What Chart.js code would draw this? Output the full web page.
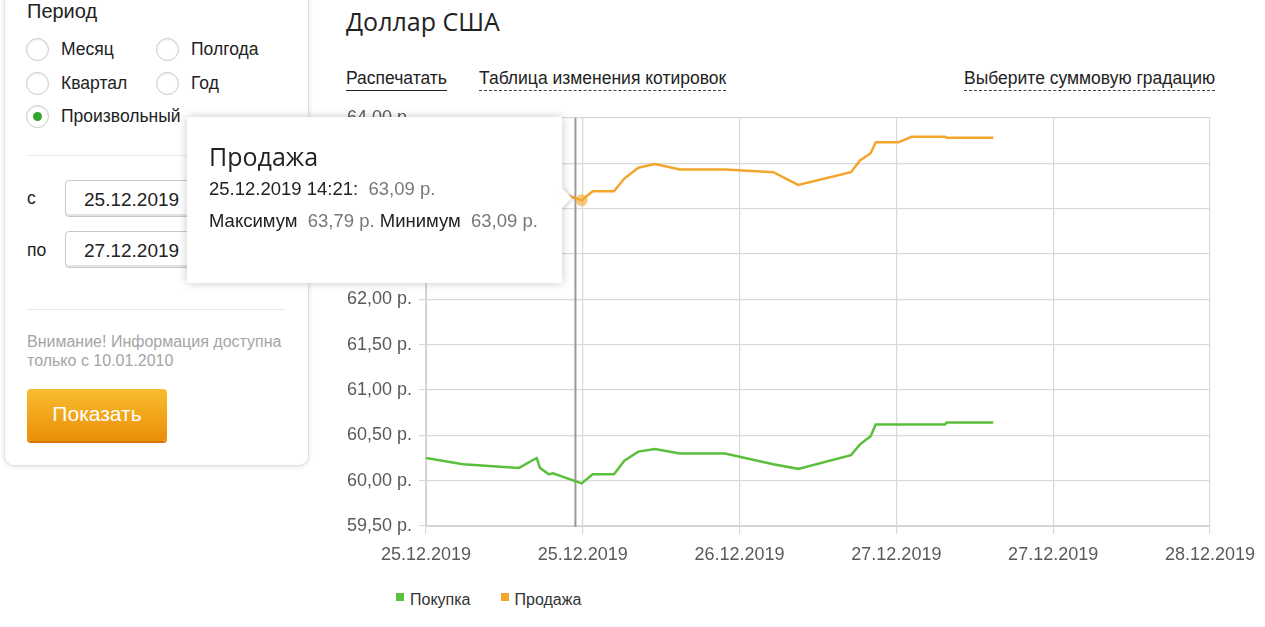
<!DOCTYPE html>
<html lang="ru">
<head>
<meta charset="utf-8">
<title>Доллар США</title>
<script src="https://cdn.jsdelivr.net/npm/chart.js@4.4.1/dist/chart.umd.min.js"></script>
<style>
  body { margin: 0; background: #fff; font-family: "Liberation Sans", Arial, sans-serif; color: #222; width: 1265px; height: 627px; overflow: hidden; position: relative; }
  .card { position: absolute; left: 4px; top: -20px; width: 303px; height: 484px; border: 1px solid #e2e2e2; border-radius: 10px; box-shadow: 0 1px 4px rgba(0,0,0,0.12); background: #fff; }
  .abs { position: absolute; white-space: nowrap; }
  .radio { position: absolute; width: 21px; height: 21px; border: 1px solid #c9c9c9; border-radius: 50%; box-shadow: inset 0 1px 2px rgba(0,0,0,0.08); background: #fff; }
  .radio.on::after { content: ""; position: absolute; left: 6px; top: 6px; width: 9px; height: 9px; border-radius: 50%; background: #35a52a; }
  .lbl { font-size: 17.5px; }
  .sep { position: absolute; left: 27px; width: 258px; height: 1px; background: #e6e6e6; }
  .inp { position: absolute; left: 65px; width: 220px; height: 37px; border: 1px solid #c8c8c8; border-radius: 4px; box-shadow: inset 0 -2px 0 #e4e4e4; font-size: 19px; line-height: 37px; padding-left: 18px; box-sizing: border-box; }
  .btn { position: absolute; left: 27px; top: 389px; width: 140px; height: 52px; border-radius: 4px; background: linear-gradient(#f8bd2f, #ec8e08); box-shadow: 0 2px 0 #d27706; color: #fff; font-size: 21px; text-align: center; line-height: 50px; }
  .link { position: absolute; top: 68px; font-size: 17.5px; line-height: 21px; padding-bottom: 1px; }
  .solid { border-bottom: 1px solid #222; }
  .dotted { border-bottom: 1px dashed #444; }
  #wrap { position: absolute; left: 330px; top: 100px; width: 935px; height: 476px; }
  .tip { position: absolute; left: 187px; top: 117px; width: 375px; height: 166px; background: #fff; box-shadow: 0 0 9px rgba(0,0,0,0.22); }
  .tip .arrow { position: absolute; right: -7px; top: 74px; width: 14px; height: 14px; background: #fff; transform: rotate(45deg); box-shadow: 2px -2px 3px rgba(0,0,0,0.12); }
  .tip .g { color: #777; }
  #legend { position: absolute; left: 396px; top: 591px; font-size: 16px; color: #333; display: flex; }
  #legend span.item { margin-right: 30px; display: flex; align-items: center; }
  #legend i { display: inline-block; width: 8px; height: 8px; margin-right: 6px; margin-top: -7px; }
</style>
</head>
<body>

<div class="card"></div>
<div class="abs" style="left:27px;top:0px;font-size:20px;">Период</div>
<div class="radio" style="left:26px;top:38px;"></div>
<div class="abs lbl" style="left:61px;top:39px;">Месяц</div>
<div class="radio" style="left:156px;top:38px;"></div>
<div class="abs lbl" style="left:191px;top:39px;">Полгода</div>
<div class="radio" style="left:26px;top:72px;"></div>
<div class="abs lbl" style="left:61px;top:73px;">Квартал</div>
<div class="radio" style="left:156px;top:72px;"></div>
<div class="abs lbl" style="left:191px;top:73px;">Год</div>
<div class="radio on" style="left:26px;top:105px;"></div>
<div class="abs lbl" style="left:61px;top:106px;">Произвольный</div>
<div class="sep" style="top:155px;"></div>
<div class="abs lbl" style="left:27px;top:188px;">с</div>
<div class="inp" style="top:180px;">25.12.2019</div>
<div class="abs lbl" style="left:27px;top:240px;">по</div>
<div class="inp" style="top:231px;">27.12.2019</div>
<div class="sep" style="top:309px;"></div>
<div class="abs" style="left:27px;top:332px;font-size:16px;line-height:19px;color:#a5a5a5;">Внимание! Информация доступна<br>только с 10.01.2010</div>
<div class="btn">Показать</div>

<div class="abs" style="left:346px;top:4px;font-family:'Open Sans',sans-serif;font-size:25px;color:#222;">Доллар США</div>
<div class="link solid" style="left:346px;">Распечатать</div>
<div class="link dotted" style="left:479px;">Таблица изменения котировок</div>
<div class="link dotted" style="left:964px;">Выберите суммовую градацию</div>

<div id="wrap"><canvas id="rateChart"></canvas></div>
<div id="legend"></div>

<div class="tip">
  <div class="arrow"></div>
  <div class="abs" style="left:22px;top:22px;font-family:'Open Sans',sans-serif;font-size:25px;color:#222;">Продажа</div>
  <div class="abs" style="left:22px;top:61px;font-size:18.5px;" id="tipLine1"></div>
  <div class="abs" style="left:22px;top:93px;font-size:18.5px;" id="tipLine2"></div>
</div>

<script>
// Подписи оси X (деления 0..5)
const dateLabels = ["25.12.2019", "25.12.2019", "26.12.2019", "27.12.2019", "27.12.2019", "28.12.2019"];

// Покупка
const buyX = [0, 0.236, 0.593, 0.706, 0.727, 0.784, 0.81, 0.993, 1.063, 1.199, 1.265, 1.354, 1.46, 1.62, 1.907, 2.215, 2.374, 2.71, 2.768, 2.836, 2.868, 3.31, 3.321, 3.618];
const buyY = [60.25, 60.18, 60.14, 60.25, 60.14, 60.07, 60.08, 59.97, 60.07, 60.07, 60.22, 60.32, 60.35, 60.30, 60.30, 60.18, 60.13, 60.28, 60.40, 60.49, 60.62, 60.62, 60.64, 60.64];

// Продажа
const sellX = [0, 0.236, 0.593, 0.706, 0.727, 0.784, 0.81, 0.993, 1.063, 1.199, 1.265, 1.354, 1.46, 1.62, 1.907, 2.215, 2.374, 2.71, 2.768, 2.836, 2.868, 3.012, 3.097, 3.31, 3.321, 3.618];
const sellY = [63.37, 63.30, 63.26, 63.37, 63.26, 63.19, 63.20, 63.09, 63.19, 63.19, 63.33, 63.45, 63.49, 63.43, 63.43, 63.40, 63.26, 63.40, 63.53, 63.61, 63.73, 63.73, 63.79, 63.79, 63.78, 63.78];

// Точка под курсором
const hoverIndex = 7;
const hoverTime = "25.12.2019 14:21";
const cursorX = 0.953;

const GREEN = "#5cbf3c";
const ORANGE = "#f3a62b";

const fmt = (v) => v.toFixed(2).replace(".", ",") + " р.";

const toPoints = (xs, ys) => xs.map((x, i) => ({ x, y: ys[i] }));

// линия курсора
const cursorLine = {
  id: "cursorLine",
  beforeDatasetsDraw(chart) {
    const { ctx, chartArea, scales } = chart;
    const x = scales.x.getPixelForValue(cursorX);
    ctx.save();
    ctx.strokeStyle = "#9a9a9a";
    ctx.lineWidth = 2;
    ctx.beginPath();
    ctx.moveTo(x, chartArea.top);
    ctx.lineTo(x, chartArea.bottom + 1);
    ctx.stroke();
    ctx.restore();
  },
};

const chart = new Chart(document.getElementById("rateChart"), {
  type: "line",
  data: {
    datasets: [
      {
        label: "Покупка",
        data: toPoints(buyX, buyY),
        borderColor: GREEN,
        backgroundColor: GREEN,
        borderWidth: 2.5,
        pointRadius: 0,
        tension: 0,
      },
      {
        label: "Продажа",
        data: toPoints(sellX, sellY),
        borderColor: ORANGE,
        backgroundColor: "rgba(243,166,43,0.6)",
        borderWidth: 2.5,
        pointRadius: (c) => (c.dataIndex === hoverIndex ? 6 : 0),
        pointBorderWidth: 0,
        tension: 0,
      },
    ],
  },
  options: {
    responsive: true,
    maintainAspectRatio: false,
    animation: false,
    events: [],
    layout: { padding: { top: 10, right: 55, left: 0, bottom: 0 } },
    plugins: {
      legend: { display: false },
      tooltip: { enabled: false },
    },
    scales: {
      x: {
        type: "linear",
        min: 0,
        max: 5,
        afterFit: (s) => { s.height = 50; },
        ticks: {
          stepSize: 1,
          padding: 10,
          color: "#5a5a5a",
          font: { family: "'Liberation Sans', Arial", size: 18 },
          maxRotation: 0,
          callback: (v) => dateLabels[v],
        },
        grid: { color: "#d9d9d9", tickLength: 8, lineWidth: 1.2 },
        border: { color: "#cfcfcf" },
      },
      y: {
        min: 59.5,
        max: 64,
        afterFit: (s) => { s.width = 96; },
        ticks: {
          stepSize: 0.5,
          padding: 7,
          color: "#5a5a5a",
          font: { family: "'Liberation Sans', Arial", size: 18 },
          callback: (v) => fmt(v),
        },
        grid: { color: "#d9d9d9", tickLength: 7, lineWidth: 1.2 },
        border: { color: "#cfcfcf" },
      },
    },
  },
  plugins: [cursorLine],
});

// легенда
const legend = document.getElementById("legend");
chart.data.datasets.forEach((ds) => {
  legend.innerHTML += `<span class="item"><i style="background:${ds.borderColor}"></i>${ds.label}</span>`;
});

// подсказка
document.getElementById("tipLine1").innerHTML = `${hoverTime}: <span class="g">&nbsp;${fmt(sellY[hoverIndex])}</span>`;
document.getElementById("tipLine2").innerHTML =
  `Максимум <span class="g">&nbsp;${fmt(Math.max(...sellY))}</span> Минимум <span class="g">&nbsp;${fmt(Math.min(...sellY))}</span>`;
</script>
</body>
</html>
